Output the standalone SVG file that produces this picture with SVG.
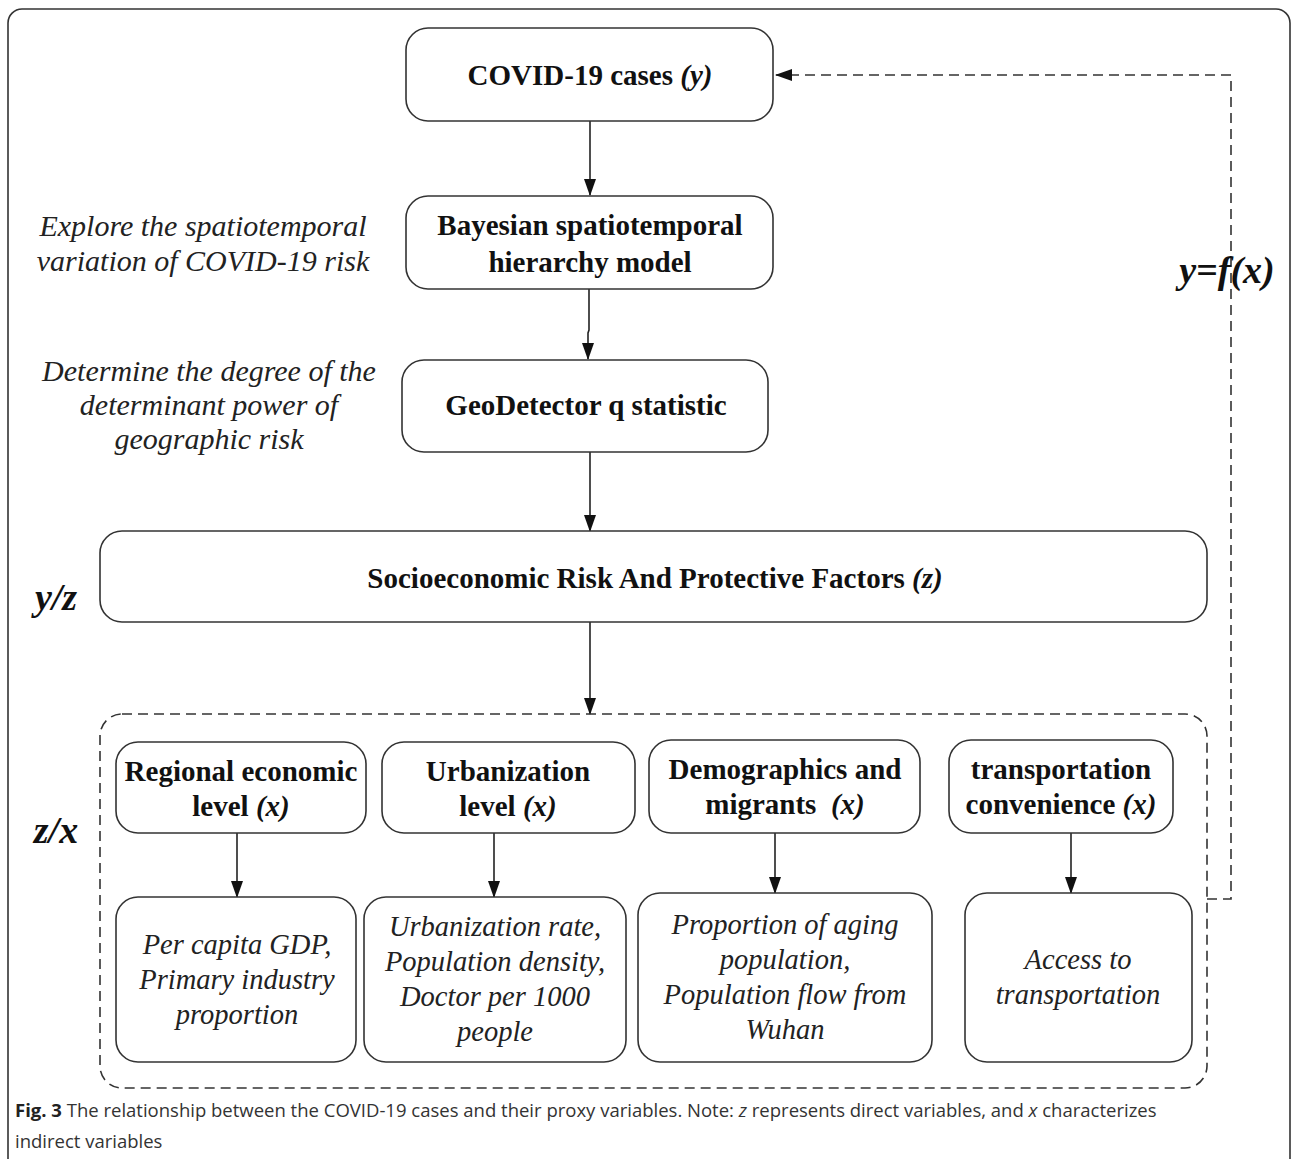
<svg xmlns="http://www.w3.org/2000/svg" width="1292" height="1159" viewBox="0 0 1292 1159">
<style>
.box{fill:#fff;stroke:#333;stroke-width:1.6}
.dash{fill:none;stroke:#333;stroke-width:1.6;stroke-dasharray:10 6}
.edge{fill:none;stroke:#222;stroke-width:1.6}
.b{font-family:"Liberation Serif","Times New Roman",serif;font-weight:bold;font-size:29px;fill:#111;text-anchor:middle}
.i{font-family:"Liberation Serif","Times New Roman",serif;font-style:italic;font-size:28.5px;fill:#222;text-anchor:middle}
.n{font-family:"Liberation Serif","Times New Roman",serif;font-style:italic;font-size:30px;fill:#222;text-anchor:middle}
.bi{font-family:"Liberation Serif","Times New Roman",serif;font-style:italic;font-weight:bold;font-size:38px;fill:#111;text-anchor:middle}
.cap{font-family:"Open Sans",sans-serif;font-size:18.5px;fill:#333}
</style>
<defs>
<marker id="ah" markerWidth="17" markerHeight="14" refX="16" refY="7" orient="auto" markerUnits="userSpaceOnUse">
<path d="M0,1 L17,7 L0,13 Z" fill="#111"/>
</marker>
</defs>
<rect x="0" y="0" width="1292" height="1159" fill="#fff"/>
<rect id="frame" x="8" y="9" width="1282" height="1165" rx="14" fill="none" stroke="#333" stroke-width="1.6"/>

<g id="connectors">
<line class="edge" x1="590" y1="121" x2="590" y2="195" marker-end="url(#ah)"/>
<path class="edge" d="M589,289 L589,330 L588,333 L588,359" marker-end="url(#ah)"/>
<line class="edge" x1="590" y1="452" x2="590" y2="531" marker-end="url(#ah)"/>
<line class="edge" x1="590" y1="622" x2="590" y2="714" marker-end="url(#ah)"/>
<line class="edge" x1="237" y1="833" x2="237" y2="897" marker-end="url(#ah)"/>
<line class="edge" x1="494" y1="833" x2="494" y2="897" marker-end="url(#ah)"/>
<line class="edge" x1="775" y1="833" x2="775" y2="893" marker-end="url(#ah)"/>
<line class="edge" x1="1071" y1="833" x2="1071" y2="893" marker-end="url(#ah)"/>
<path class="dash" d="M1207,899 L1231,899 L1231,75 L776,75" marker-end="url(#ah)"/>
</g>

<g id="covid">
<rect class="box" x="406" y="28" width="367" height="93" rx="22"/>
<text class="b" x="590" y="85">COVID-19 cases <tspan font-style="italic">(y)</tspan></text>
</g>
<g id="bayesian">
<rect class="box" x="406" y="196" width="367" height="93" rx="22"/>
<text class="b" x="590" y="235">Bayesian spatiotemporal</text>
<text class="b" x="590" y="272">hierarchy model</text>
</g>
<g id="geodetector">
<rect class="box" x="402" y="360" width="366" height="92" rx="22"/>
<text class="b" x="586" y="415">GeoDetector q statistic</text>
</g>
<g id="socio">
<rect class="box" x="100" y="531" width="1107" height="91" rx="22"/>
<text class="b" x="655" y="588">Socioeconomic Risk And Protective Factors <tspan font-style="italic">(z)</tspan></text>
</g>

<g id="note-explore">
<text class="n" x="203" y="236">Explore the spatiotemporal</text>
<text class="n" x="203" y="271">variation of COVID-19 risk</text>
</g>
<g id="note-determine">
<text class="n" x="209" y="381">Determine the degree of the</text>
<text class="n" x="209" y="415">determinant power of</text>
<text class="n" x="209" y="449">geographic risk</text>
</g>
<g id="label-yz"><text class="bi" x="56" y="610">y/z</text></g>
<g id="label-zx"><text class="bi" x="56" y="843">z/x</text></g>
<g id="label-yfx"><text class="bi" x="1227" y="283" font-size="35">y=f(x)</text></g>

<g id="factor-group">
<rect class="dash" x="100" y="714" width="1107" height="374" rx="22"/>
</g>

<g id="regional">
<rect class="box" x="116" y="742" width="250" height="91" rx="22"/>
<text class="b" x="241" y="781">Regional economic</text>
<text class="b" x="241" y="816">level <tspan font-style="italic">(x)</tspan></text>
</g>
<g id="urbanization">
<rect class="box" x="382" y="742" width="253" height="91" rx="22"/>
<text class="b" x="508" y="781">Urbanization</text>
<text class="b" x="508" y="816">level <tspan font-style="italic">(x)</tspan></text>
</g>
<g id="demographics">
<rect class="box" x="649" y="740" width="271" height="93" rx="22"/>
<text class="b" x="785" y="779">Demographics and</text>
<text class="b" x="785" y="814" xml:space="preserve">migrants  <tspan font-style="italic">(x)</tspan></text>
</g>
<g id="transportation">
<rect class="box" x="949" y="740" width="224" height="93" rx="22"/>
<text class="b" x="1061" y="779">transportation</text>
<text class="b" x="1061" y="814">convenience <tspan font-style="italic">(x)</tspan></text>
</g>

<g id="gdp">
<rect class="box" x="116" y="897" width="240" height="165" rx="22"/>
<text class="i" x="237" y="954">Per capita GDP,</text>
<text class="i" x="237" y="989">Primary industry</text>
<text class="i" x="237" y="1024">proportion</text>
</g>
<g id="urbanrate">
<rect class="box" x="364" y="897" width="262" height="165" rx="22"/>
<text class="i" x="495" y="936">Urbanization rate,</text>
<text class="i" x="495" y="971">Population density,</text>
<text class="i" x="495" y="1006">Doctor per 1000</text>
<text class="i" x="495" y="1041">people</text>
</g>
<g id="aging">
<rect class="box" x="638" y="893" width="294" height="169" rx="22"/>
<text class="i" x="785" y="934">Proportion of aging</text>
<text class="i" x="785" y="969">population,</text>
<text class="i" x="785" y="1004">Population flow from</text>
<text class="i" x="785" y="1039">Wuhan</text>
</g>
<g id="access">
<rect class="box" x="965" y="893" width="227" height="169" rx="22"/>
<text class="i" x="1078" y="969">Access to</text>
<text class="i" x="1078" y="1004">transportation</text>
</g>

<g id="caption">
<text class="cap" x="15" y="1117"><tspan font-weight="bold" fill="#222">Fig. 3</tspan> The relationship between the COVID-19 cases and their proxy variables. Note: <tspan font-style="italic">z</tspan> represents direct variables, and <tspan font-style="italic">x</tspan> characterizes</text>
<text class="cap" x="15" y="1148">indirect variables</text>
</g>
</svg>
